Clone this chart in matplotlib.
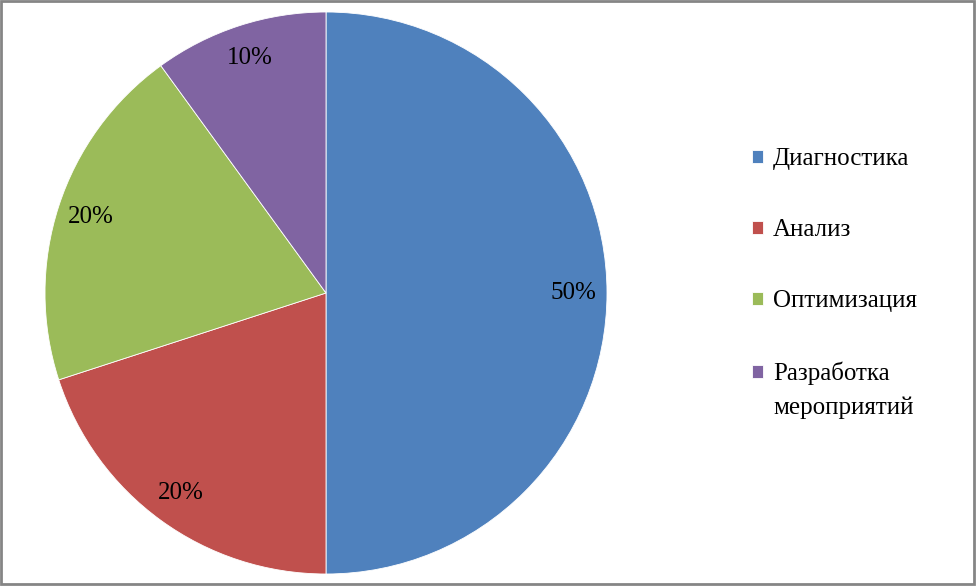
import matplotlib
matplotlib.use("Agg")
import matplotlib.pyplot as plt
from matplotlib.patches import Rectangle

categories = ["Диагностика", "Анализ", "Оптимизация", "Разработка\nмероприятий"]
values = [50, 20, 20, 10]
colors = ["#4F81BD", "#C0504D", "#9BBB59", "#8064A2"]

plt.rcParams['font.family'] = ['Liberation Serif', 'DejaVu Serif']
FS = 18

W, H = 976, 587
fig = plt.figure(figsize=(W / 100, H / 100), dpi=100)
cx, cy, r = 326, 293, 281
ax = fig.add_axes([(cx - r) / W, (H - cy - r) / H, 2 * r / W, 2 * r / H])
wedges, texts, autotexts = ax.pie(
    values, colors=colors, startangle=90, counterclock=False,
    autopct='%1.0f%%', pctdistance=0.88, radius=1,
    wedgeprops=dict(edgecolor='white', linewidth=0.6),
    textprops=dict(fontsize=FS, color='black'))
ax.set_xlim(-1, 1)
ax.set_ylim(-1, 1)
ax.set_aspect('equal')
ax.axis('off')

# legend: multi-line last entry keeps its square at the first line
first_lines = [c.split("\n")[0] for c in categories]
leg = fig.legend(wedges, first_lines, loc='upper left',
                 bbox_to_anchor=(752 / W, (H - 148) / H),
                 frameon=False, fontsize=FS, borderpad=0, borderaxespad=0,
                 handlelength=0.42, handleheight=0.42, handletextpad=0.42,
                 labelspacing=1.97)
fig.canvas.draw()
for cat, t in zip(categories, leg.get_texts()):
    rest = cat.split("\n")[1:]
    if rest:
        bb = t.get_window_extent()
        for i, line in enumerate(rest, start=1):
            fig.text(bb.x0 / W, (bb.y0 + bb.y1) / 2 / H - i * 34 / H, line,
                     fontsize=FS, ha='left', va='center')

fig.patches.append(Rectangle((1 / W, 3 / H), 973 / W, 583 / H, transform=fig.transFigure,
                             fill=False, edgecolor='#858585', linewidth=2))

fig.savefig("out.png", dpi=100)
